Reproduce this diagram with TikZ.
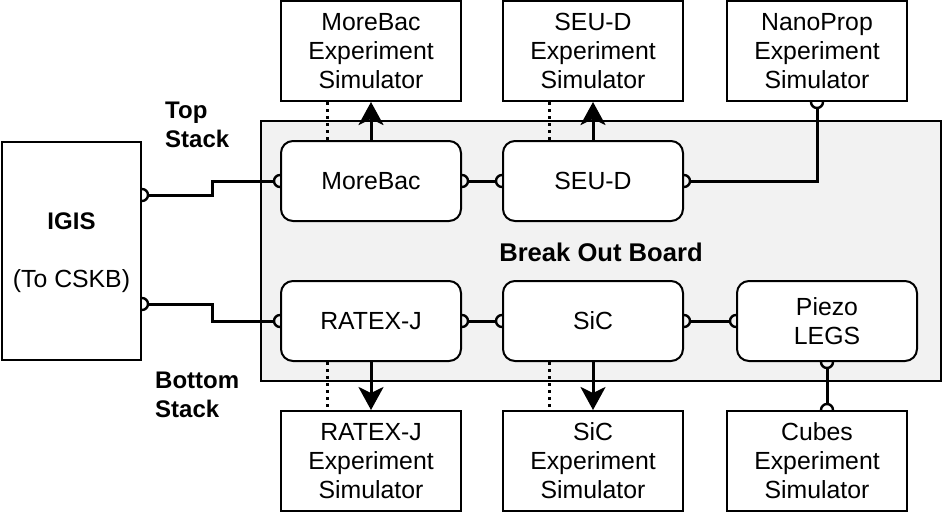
\documentclass[tikz,border=0pt]{standalone}
\usepackage{fontspec}
\setmainfont{Liberation Sans}
\usetikzlibrary{arrows.meta,calc}
\definecolor{bobfill}{HTML}{F2F2F2}
\tikzset{
  txt/.style={font=\fontsize{24.8}{29}\selectfont},
  simbox/.style={txt, draw, line width=2pt, minimum width=180pt, minimum height=100pt, align=center, inner sep=0pt, fill=white},
  rbox/.style={txt, draw, line width=2pt, minimum width=180pt, minimum height=80pt, align=center, inner sep=0pt, rounded corners=12pt, fill=white},
  conn/.style={line width=3pt, shorten <=6pt, shorten >=6pt},
  capline/.style={line width=2.4pt},
  arr/.style={line width=3pt, -{Stealth[length=23pt,width=25pt,inset=6pt]}},
  dots/.style={line width=3pt, dash pattern=on 3pt off 4pt},
  lbl/.style={txt, font=\fontsize{24}{29}\selectfont\bfseries, align=left, inner sep=0pt},
}
\newcommand\hcap[2]{\draw[capline] ($(#1)+(#2+90:6pt)$) arc[start angle=#2+90, delta angle=-180, radius=6pt];}
\begin{document}
\begin{tikzpicture}[x=1pt,y=1pt]
\useasboundingbox (0,0) rectangle (944,-512);
% board
\node[draw, fill=bobfill, line width=2pt, minimum width=680pt, minimum height=260pt, inner sep=0pt] (bob) at (601,-251) {};
\node[lbl, font=\fontsize{25.6}{29}\selectfont\bfseries] (boblbl) at (601,-252) {Break Out Board};
% IGIS
\node[draw, line width=2pt, minimum width=139pt, minimum height=218pt, inner sep=0pt] (igis) at (71.5,-251) {};
\node[lbl] (igislbl) at (71.5,-221) {IGIS};
\node[txt, inner sep=0pt] (cskb) at (71.5,-281) {(To CSKB)};
% stack labels
\node[lbl, anchor=west] (top) at (165,-124.5) {Top\\Stack};
\node[lbl, anchor=west] (bot) at (155,-395) {Bottom\\Stack};
% inner nodes
\node[rbox] (morebac) at (371,-181) {MoreBac};
\node[rbox] (seud) at (593,-181) {SEU-D};
\node[rbox] (ratex) at (371,-321) {RATEX-J};
\node[rbox] (sic) at (593,-321) {SiC};
\node[rbox] (piezo) at (827,-321) {Piezo\\LEGS};
% simulators
\node[simbox] (msim) at (371,-51) {MoreBac\\Experiment\\Simulator};
\node[simbox] (ssim) at (593,-51) {SEU-D\\Experiment\\Simulator};
\node[simbox] (nsim) at (817,-51) {NanoProp\\Experiment\\Simulator};
\node[simbox] (rsim) at (371,-461) {RATEX-J\\Experiment\\Simulator};
\node[simbox] (csim) at (593,-461) {SiC\\Experiment\\Simulator};
\node[simbox] (cubes) at (817,-461) {Cubes\\Experiment\\Simulator};
% coordinates on IGIS
\coordinate (i1) at ($(igis.north east)+(0,-54)$);
\coordinate (i2) at ($(igis.north east)+(0,-163)$);
\coordinate (pz) at (piezo.south |- cubes.north);
% connectors
\draw[conn] (i1) -- ++(70,0) |- (morebac.west);
\hcap{i1}{0} \hcap{morebac.west}{180}
\draw[conn] (i2) -- ++(70,0) |- (ratex.west);
\hcap{i2}{0} \hcap{ratex.west}{180}
\draw[conn] (morebac.east) -- (seud.west);
\hcap{morebac.east}{0} \hcap{seud.west}{180}
\draw[conn] (seud.east) -| (nsim.south);
\hcap{seud.east}{0} \hcap{nsim.south}{270}
\draw[conn] (ratex.east) -- (sic.west);
\hcap{ratex.east}{0} \hcap{sic.west}{180}
\draw[conn] (sic.east) -- (piezo.west);
\hcap{sic.east}{0} \hcap{piezo.west}{180}
\draw[conn] (piezo.south) -- (pz);
\hcap{piezo.south}{270} \hcap{pz}{90}
% arrows
\draw[arr] (morebac.north) -- (msim.south);
\draw[arr] (seud.north) -- (ssim.south);
\draw[arr] (ratex.south) -- (rsim.north);
\draw[arr] (sic.south) -- (csim.north);
% dotted
\draw[dots] ($(msim.south)+(-44,0)$) -- ($(morebac.north)+(-44,0)$);
\draw[dots] ($(ssim.south)+(-44,0)$) -- ($(seud.north)+(-44,0)$);
\draw[dots] ($(ratex.south)+(-44,0)$) -- ($(rsim.north)+(-44,0)$);
\draw[dots] ($(sic.south)+(-44,0)$) -- ($(csim.north)+(-44,0)$);
\end{tikzpicture}
\end{document}
